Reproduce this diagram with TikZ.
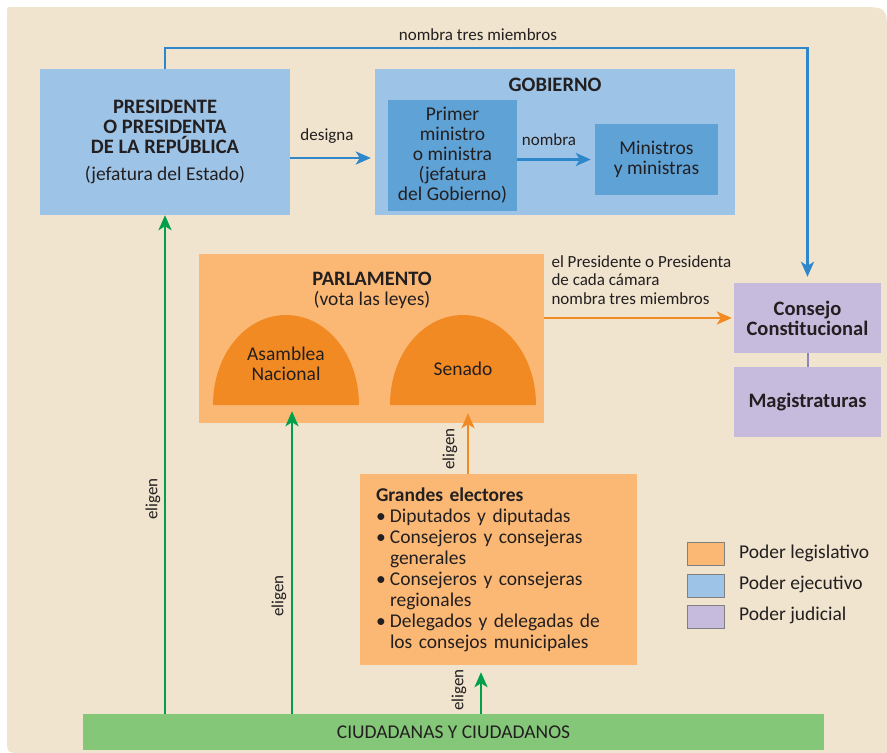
\documentclass[tikz,border=0pt]{standalone}
\usepackage{fontspec}
\setmainfont{Carlito}
\usetikzlibrary{arrows.meta}
\definecolor{fondo}{HTML}{F0E4CE}
\definecolor{ejec}{HTML}{9DC3E6}
\definecolor{ejecosc}{HTML}{5FA2D6}
\definecolor{azul}{HTML}{2E86CB}
\definecolor{legis}{HTML}{FBB874}
\definecolor{naranja}{HTML}{F28A24}
\definecolor{judic}{HTML}{C6BBDD}
\definecolor{lila}{HTML}{8E86BF}
\definecolor{verde}{HTML}{00A04B}
\definecolor{verdeclaro}{HTML}{84C778}
\definecolor{texto}{HTML}{231F20}
\newcommand{\bala}{\makebox[14pt][l]{\textbullet}}
\newcommand{\sangria}{\hspace*{14pt}}
\begin{document}
\begin{tikzpicture}[x=1pt,y=-1pt,
    caja/.style={inner sep=0pt,align=center,text=texto,font=\fontsize{19.5}{20}\selectfont},
    negrita/.style={font=\bfseries\fontsize{20.5}{19.5}\selectfont},
    rotulo/.style={text=texto,font=\fontsize{17}{18.5}\selectfont},
    flecha/.style={line width=2.6pt,-{Stealth[length=15pt,width=13pt,inset=4pt]}},
    leyenda/.style={draw=gray,line width=0.8pt,minimum width=37pt,minimum height=23pt,inner sep=0pt}]
  \useasboundingbox (0,0) rectangle (887,753);
  % fondo
  \fill[fondo] (7,738) .. controls (7,753) .. (22,753) -- (887,753) -- (887,35)
    .. controls (887,7) .. (859,7) -- (12,7) .. controls (7,7) .. (7,12) -- cycle;
  % poder ejecutivo
  \node[caja,fill=ejec,minimum width=250pt,minimum height=146pt] (pres) at (165,142)
    {\textbf{\fontsize{20.5}{19.5}\selectfont PRESIDENTE}\\\textbf{\fontsize{20.5}{19.5}\selectfont O PRESIDENTA}\\\textbf{\fontsize{20.5}{19.5}\selectfont DE LA REPÚBLICA}\\[7pt](jefatura del Estado)};
  \node[caja,fill=ejec,minimum width=360pt,minimum height=146pt] (gob) at (555,142) {};
  \node[caja,negrita] (gobtit) at (555,85) {GOBIERNO};
  \node[caja,fill=ejecosc,minimum width=129pt,minimum height=111pt] (pm) at (452.5,155.5)
    {Primer\\ministro\\o ministra\\(jefatura\\del Gobierno)};
  \node[caja,fill=ejecosc,minimum width=123pt,minimum height=71pt] (min) at (656.5,159.5)
    {Ministros\\y ministras};
  % poder legislativo
  \node[caja,fill=legis,minimum width=345pt,minimum height=169pt] (parl) at (371.5,338.5) {};
  \node[caja] (parltit) at (372,290) {\textbf{\fontsize{20.5}{19.5}\selectfont PARLAMENTO}\\(vota las leyes)};
  \fill[naranja] (213,405) .. controls (213,354) and (246,315) .. (286,315)
    .. controls (326,315) and (359,354) .. (359,405) -- cycle;
  \fill[naranja] (390,405) .. controls (390,354) and (423,315) .. (463,315)
    .. controls (503,315) and (536,354) .. (536,405) -- cycle;
  \node[caja] (asam) at (286,364) {Asamblea\\Nacional};
  \node[caja] (sen) at (463,369) {Senado};
  \node[caja,fill=legis,align=left,text width=245pt,inner xsep=16pt,minimum height=191pt,
    font=\fontsize{19.5}{21}\selectfont] (gran) at (498.5,569.5)
    {\textbf{Grandes electores}\\
     \bala Diputados y diputadas\\
     \bala Consejeros y consejeras\\
     \sangria generales\\
     \bala Consejeros y consejeras\\
     \sangria regionales\\
     \bala Delegados y delegadas de\\
     \sangria los consejos municipales};
  % poder judicial
  \node[caja,fill=judic,minimum width=147pt,minimum height=70pt,font=\bfseries\fontsize{20.5}{20}\selectfont] (cons) at (807.5,318)
    {Consejo\\Constitucional};
  \node[caja,fill=judic,minimum width=147pt,minimum height=70pt,font=\bfseries\fontsize{20.5}{20}\selectfont] (mag) at (807.5,402)
    {Magistraturas};
  \draw[lila,line width=2pt] (cons) -- (mag);
  % ciudadania
  \node[caja,fill=verdeclaro,minimum width=741pt,minimum height=36pt] (ciud) at (453.5,732)
    {CIUDADANAS Y CIUDADANOS};
  % flechas
  \coordinate (arriba) at (0,48);
  \coordinate (xa) at (292,0);
  \coordinate (xs) at (468,0);
  \coordinate (xg) at (481,0);
  \draw[flecha,azul,shorten >=4pt] ([yshift=-16pt]pres.east) -- ([yshift=-16pt]gob.west);
  \node[rotulo] at (327,136) {designa};
  \draw[flecha,azul,shorten >=4pt] (pm.east |- min.west) -- (min.west);
  \node[rotulo] at (549,140) {nombra};
  \draw[flecha,azul,shorten >=6pt] (pres.north) -- (pres.north |- arriba) -- (cons.north |- arriba) -- (cons.north);
  \node[rotulo] at (478,35) {nombra tres miembros};
  \draw[flecha,naranja,shorten >=2pt] (cons.west -| parl.east) -- (cons.west);
  \node[rotulo,anchor=north west,align=left] at (548,252)
    {el Presidente o Presidenta\\de cada cámara\\nombra tres miembros};
  \draw[flecha,verde] (ciud.north -| pres.south) -- (pres.south);
  \node[rotulo,rotate=90] at (153,499) {eligen};
  \draw[flecha,verde,shorten >=-12pt] (ciud.north -| xa) -- (parl.south -| xa);
  \node[rotulo,rotate=90] at (279,596) {eligen};
  \draw[flecha,naranja,shorten >=-10pt] (gran.north -| xs) -- (parl.south -| xs);
  \node[rotulo,rotate=90] at (450,449) {eligen};
  \draw[flecha,verde,shorten >=7pt] (ciud.north -| xg) -- (gran.south -| xg);
  \node[rotulo,rotate=90] at (459,690) {eligen};
  % leyenda
  \node[leyenda,fill=legis] (l1) at (706,554) {};
  \node[leyenda,fill=ejec] (l2) at (706,586) {};
  \node[leyenda,fill=judic] (l3) at (706,617) {};
  \node[caja,anchor=west] at (739,553) {Poder legislativo};
  \node[caja,anchor=west] at (739,584) {Poder ejecutivo};
  \node[caja,anchor=west] at (739,615) {Poder judicial};
\end{tikzpicture}
\end{document}
